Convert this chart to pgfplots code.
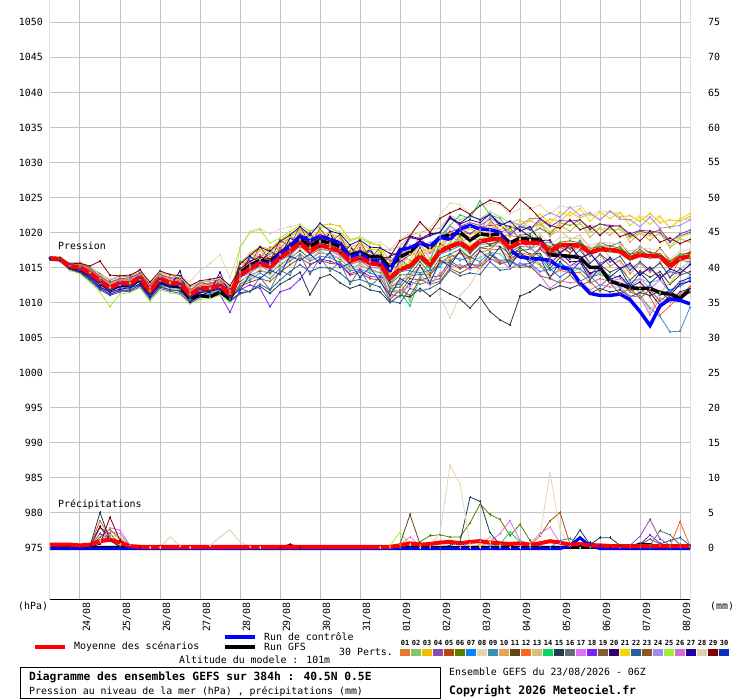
\documentclass[border=0pt]{standalone}
\usepackage{fontspec}
\setmainfont{DejaVu Sans Mono}
\usepackage{pgfplots}
\pgfplotsset{compat=1.18}
\usepackage{pgfplotstable}
\definecolor{c01}{HTML}{E07B30}\definecolor{c02}{HTML}{88C46C}\definecolor{c03}{HTML}{F0C000}
\definecolor{c04}{HTML}{8C4CAC}\definecolor{c05}{HTML}{B04C08}\definecolor{c06}{HTML}{5A8000}
\definecolor{c07}{HTML}{0A84FF}\definecolor{c08}{HTML}{E8D4B0}\definecolor{c09}{HTML}{3C8CB8}
\definecolor{c10}{HTML}{E8A450}\definecolor{c11}{HTML}{5C4818}\definecolor{c12}{HTML}{F86820}
\definecolor{c13}{HTML}{D4C078}\definecolor{c14}{HTML}{08D860}\definecolor{c15}{HTML}{203C50}
\definecolor{c16}{HTML}{647078}\definecolor{c17}{HTML}{E070F8}\definecolor{c18}{HTML}{8020F8}
\definecolor{c19}{HTML}{806030}\definecolor{c20}{HTML}{300070}\definecolor{c21}{HTML}{F0D800}
\definecolor{c22}{HTML}{28609C}\definecolor{c23}{HTML}{905820}\definecolor{c24}{HTML}{9C8CF0}
\definecolor{c25}{HTML}{A0F030}\definecolor{c26}{HTML}{D070D0}\definecolor{c27}{HTML}{2000A0}
\definecolor{c28}{HTML}{E0D0B0}\definecolor{c29}{HTML}{800008}\definecolor{c30}{HTML}{0830B8}
\definecolor{gridc}{HTML}{C4C4C4}
\newcommand{\fnt}{\fontsize{9.9}{11}\selectfont}
\pgfplotsset{mem/.style={line width=0.8pt, mark=*, mark size=0.6pt, mark options={solid}},
  pm/.style={line width=0.8pt, mark=+, mark size=1.2pt}}
\begin{document}
\begin{tikzpicture}[x=1pt,y=1pt]
\useasboundingbox (0,0) rectangle (740,700);
\begin{axis}[at={(50pt,100pt)}, anchor=south west,
  scale only axis, width=640pt, height=600pt,
  xmin=0, xmax=384, ymin=967.5, ymax=1053.2,
  axis line style={draw=none},
  xtick={18,42,...,378},
  xticklabels={24/08,25/08,26/08,27/08,28/08,29/08,30/08,31/08,01/09,02/09,03/09,04/09,05/09,06/09,07/09,08/09},
  ytick={975,980,...,1050},
  major tick length=0pt,
  xmajorgrids, ymajorgrids,
  major grid style={draw=gridc, line width=1pt},
  ticklabel style={font=\fnt},
  xticklabel style={xshift=7pt, yshift=-2pt, rotate=90, anchor=east, inner sep=0pt},
  yticklabel style={anchor=east, inner sep=0pt, xshift=-7pt},
  /pgf/number format/assume math mode=true,
  /pgf/number format/1000 sep={},
]
\addplot[mem,c01] table[row sep=\\, x expr=\coordindex*6, y=p]{p\\1016.4\\1016.3\\1015.4\\1015.5\\1014.6\\1013.9\\1012.5\\1013.5\\1013.1\\1014.3\\1012.0\\1014.0\\1013.6\\1013.2\\1011.9\\1012.4\\1012.8\\1013.0\\1011.5\\1014.2\\1017.0\\1016.4\\1017.9\\1017.6\\1019.4\\1019.0\\1019.6\\1018.8\\1020.2\\1018.0\\1018.0\\1016.9\\1017.6\\1016.0\\1015.5\\1017.9\\1016.8\\1019.6\\1017.0\\1019.2\\1020.9\\1020.0\\1019.8\\1020.1\\1021.3\\1019.6\\1019.5\\1019.4\\1018.2\\1019.4\\1017.0\\1018.4\\1017.1\\1017.9\\1015.6\\1016.8\\1015.2\\1016.0\\1014.1\\1015.6\\1014.3\\1015.8\\1013.5\\1016.2\\1016.4\\};
\addplot[mem,c02] table[row sep=\\, x expr=\coordindex*6, y=p]{p\\1016.2\\1016.0\\1014.7\\1014.3\\1013.4\\1012.2\\1011.4\\1011.8\\1012.0\\1012.7\\1010.9\\1012.5\\1012.1\\1011.8\\1010.4\\1011.0\\1011.3\\1011.6\\1010.0\\1012.6\\1013.5\\1014.8\\1013.9\\1015.6\\1016.0\\1017.6\\1016.1\\1017.4\\1016.5\\1016.4\\1014.6\\1015.6\\1014.4\\1014.3\\1011.2\\1012.9\\1010.2\\1013.8\\1012.9\\1015.6\\1016.2\\1016.3\\1015.8\\1016.4\\1017.2\\1016.9\\1015.6\\1016.8\\1016.1\\1015.3\\1013.6\\1014.9\\1014.4\\1014.8\\1013.4\\1014.3\\1013.9\\1013.6\\1012.9\\1013.4\\1012.8\\1013.3\\1011.6\\1012.9\\1013.0\\};
\addplot[mem,c03] table[row sep=\\, x expr=\coordindex*6, y=p]{p\\1016.3\\1016.4\\1015.3\\1015.4\\1014.8\\1013.4\\1012.7\\1013.1\\1013.2\\1013.9\\1012.1\\1013.8\\1013.3\\1013.0\\1011.6\\1012.3\\1012.5\\1012.8\\1011.6\\1015.6\\1017.0\\1018.0\\1017.6\\1018.9\\1019.8\\1020.6\\1020.0\\1021.0\\1021.2\\1020.9\\1019.0\\1019.4\\1018.6\\1018.1\\1015.8\\1015.6\\1017.5\\1017.2\\1017.9\\1018.0\\1020.3\\1019.4\\1020.6\\1019.8\\1021.5\\1020.4\\1020.9\\1020.5\\1021.7\\1021.0\\1021.9\\1021.6\\1022.9\\1022.1\\1022.6\\1021.8\\1023.1\\1022.2\\1022.4\\1021.6\\1022.7\\1021.4\\1021.8\\1021.6\\1022.3\\};
\addplot[mem,c04] table[row sep=\\, x expr=\coordindex*6, y=p]{p\\1016.2\\1016.1\\1015.0\\1014.8\\1014.0\\1013.3\\1011.8\\1012.9\\1012.4\\1013.8\\1011.2\\1013.6\\1012.6\\1012.9\\1010.8\\1012.2\\1011.8\\1012.7\\1010.6\\1015.0\\1014.6\\1016.8\\1014.8\\1017.8\\1016.6\\1019.8\\1016.9\\1019.6\\1017.4\\1018.6\\1015.4\\1017.8\\1015.2\\1016.8\\1016.0\\1016.4\\1019.2\\1019.0\\1019.5\\1020.0\\1022.2\\1020.9\\1021.4\\1021.0\\1021.9\\1020.0\\1020.6\\1019.1\\1019.6\\1018.4\\1018.6\\1017.2\\1018.0\\1016.4\\1016.9\\1015.6\\1016.2\\1014.9\\1015.3\\1014.1\\1015.0\\1013.6\\1014.4\\1014.0\\1015.5\\};
\addplot[mem,c05] table[row sep=\\, x expr=\coordindex*6, y=p]{p\\1016.3\\1016.1\\1014.8\\1014.6\\1013.6\\1012.5\\1011.7\\1012.2\\1012.3\\1013.0\\1011.2\\1012.8\\1012.3\\1012.1\\1010.7\\1011.4\\1011.6\\1011.9\\1010.3\\1012.3\\1012.9\\1013.4\\1013.0\\1014.3\\1015.4\\1016.3\\1015.5\\1016.0\\1015.6\\1015.4\\1013.9\\1014.3\\1013.4\\1013.2\\1010.4\\1011.8\\1011.0\\1013.3\\1012.6\\1013.0\\1014.9\\1014.2\\1015.0\\1014.9\\1016.3\\1015.5\\1015.9\\1016.8\\1016.0\\1017.6\\1016.4\\1017.9\\1017.1\\1018.5\\1016.6\\1018.2\\1017.4\\1018.0\\1016.4\\1017.6\\1016.3\\1017.8\\1015.9\\1016.9\\1017.0\\};
\addplot[mem,c06] table[row sep=\\, x expr=\coordindex*6, y=p]{p\\1016.3\\1016.2\\1015.0\\1014.7\\1013.8\\1012.9\\1011.6\\1012.6\\1012.3\\1013.4\\1011.1\\1013.2\\1012.4\\1012.5\\1010.6\\1011.8\\1011.6\\1012.3\\1010.6\\1014.6\\1015.1\\1016.3\\1015.5\\1016.9\\1017.6\\1019.0\\1017.8\\1018.6\\1018.4\\1017.7\\1016.5\\1016.8\\1016.2\\1015.7\\1012.6\\1013.9\\1014.0\\1015.8\\1014.2\\1016.3\\1016.9\\1017.6\\1016.4\\1017.8\\1018.1\\1018.0\\1016.9\\1017.4\\1017.6\\1018.9\\1017.9\\1018.6\\1018.8\\1018.5\\1017.7\\1018.0\\1018.1\\1017.7\\1016.9\\1017.2\\1017.2\\1016.9\\1015.8\\1016.7\\1017.2\\};
\addplot[mem,c07] table[row sep=\\, x expr=\coordindex*6, y=p]{p\\1016.3\\1016.3\\1015.2\\1015.2\\1014.5\\1013.3\\1012.5\\1013.0\\1013.1\\1013.8\\1011.9\\1013.8\\1013.0\\1013.0\\1011.4\\1012.2\\1012.4\\1012.7\\1011.5\\1013.8\\1016.4\\1015.8\\1017.0\\1016.6\\1019.2\\1018.6\\1019.5\\1018.2\\1019.8\\1017.4\\1017.9\\1016.4\\1017.3\\1015.6\\1012.4\\1012.6\\1014.5\\1014.2\\1014.6\\1015.1\\1016.9\\1016.0\\1016.5\\1015.8\\1017.2\\1015.9\\1016.0\\1015.2\\1015.6\\1014.4\\1014.8\\1013.6\\1014.6\\1013.0\\1013.8\\1012.4\\1013.5\\1012.1\\1012.8\\1011.3\\1012.5\\1011.0\\1011.8\\1012.3\\1013.2\\};
\addplot[mem,c08] table[row sep=\\, x expr=\coordindex*6, y=p]{p\\1016.4\\1016.4\\1015.4\\1015.6\\1015.0\\1014.0\\1012.8\\1013.8\\1013.3\\1014.5\\1012.4\\1014.3\\1013.5\\1013.6\\1013.0\\1014.5\\1015.6\\1016.8\\1013.5\\1017.8\\1020.2\\1020.6\\1019.8\\1020.5\\1020.8\\1021.2\\1020.0\\1021.0\\1020.6\\1020.1\\1018.9\\1019.4\\1018.7\\1018.6\\1017.6\\1019.0\\1019.9\\1021.2\\1020.5\\1022.5\\1024.2\\1024.0\\1022.6\\1023.8\\1024.1\\1024.0\\1022.6\\1023.4\\1023.3\\1023.9\\1022.6\\1023.8\\1023.5\\1023.8\\1022.4\\1023.1\\1022.9\\1022.8\\1021.7\\1022.4\\1022.0\\1022.3\\1020.6\\1021.8\\1021.9\\};
\addplot[mem,c09] table[row sep=\\, x expr=\coordindex*6, y=p]{p\\1016.2\\1016.0\\1014.8\\1014.4\\1013.5\\1012.6\\1011.4\\1012.3\\1012.0\\1013.1\\1010.9\\1012.8\\1012.1\\1012.2\\1010.4\\1011.5\\1011.3\\1012.0\\1010.5\\1012.6\\1013.2\\1014.2\\1013.4\\1014.9\\1015.9\\1016.9\\1015.9\\1016.6\\1016.4\\1015.7\\1014.5\\1014.8\\1014.2\\1013.8\\1012.8\\1014.4\\1014.6\\1016.2\\1014.8\\1016.9\\1017.4\\1018.1\\1017.0\\1018.3\\1018.4\\1018.6\\1017.2\\1018.0\\1017.9\\1016.4\\1014.6\\1015.4\\1015.0\\1014.8\\1013.6\\1014.0\\1013.4\\1012.8\\1011.5\\1011.0\\1009.2\\1008.0\\1005.8\\1005.9\\1009.3\\};
\addplot[mem,c10] table[row sep=\\, x expr=\coordindex*6, y=p]{p\\1016.3\\1016.2\\1015.2\\1015.1\\1014.4\\1013.2\\1012.4\\1012.9\\1013.0\\1013.7\\1011.9\\1013.5\\1013.1\\1012.8\\1011.4\\1012.1\\1012.3\\1012.6\\1011.4\\1015.6\\1015.0\\1017.5\\1015.4\\1018.3\\1017.2\\1020.4\\1017.4\\1020.0\\1017.9\\1019.2\\1016.0\\1018.3\\1015.8\\1017.3\\1014.2\\1016.8\\1016.0\\1018.5\\1016.2\\1019.5\\1018.8\\1020.6\\1018.5\\1020.9\\1019.8\\1021.2\\1019.4\\1021.0\\1020.3\\1021.6\\1019.4\\1021.0\\1020.2\\1021.4\\1019.3\\1020.6\\1019.6\\1020.8\\1018.6\\1019.9\\1018.9\\1020.0\\1017.8\\1019.1\\1018.6\\};
\addplot[mem,c11] table[row sep=\\, x expr=\coordindex*6, y=p]{p\\1016.4\\1016.3\\1015.6\\1015.7\\1015.0\\1014.1\\1013.2\\1013.8\\1013.6\\1014.7\\1012.5\\1014.3\\1013.9\\1013.5\\1012.2\\1012.8\\1013.1\\1013.3\\1012.0\\1013.0\\1013.9\\1014.5\\1014.2\\1015.3\\1016.4\\1017.4\\1016.3\\1017.1\\1016.9\\1016.2\\1015.0\\1015.3\\1014.7\\1014.3\\1013.0\\1016.2\\1015.0\\1017.9\\1015.1\\1018.4\\1017.6\\1019.5\\1017.0\\1019.0\\1018.2\\1018.9\\1016.5\\1017.8\\1016.9\\1017.0\\1014.9\\1016.4\\1015.2\\1016.1\\1013.9\\1015.4\\1014.3\\1015.0\\1013.2\\1014.5\\1013.6\\1014.4\\1012.6\\1013.9\\1014.4\\};
\addplot[mem,c12] table[row sep=\\, x expr=\coordindex*6, y=p]{p\\1016.3\\1016.2\\1015.1\\1014.9\\1014.2\\1012.9\\1012.3\\1012.6\\1012.9\\1013.4\\1011.8\\1013.2\\1013.0\\1012.5\\1011.3\\1011.8\\1012.2\\1012.3\\1011.3\\1013.4\\1015.8\\1015.4\\1016.6\\1016.0\\1018.6\\1017.9\\1018.8\\1017.4\\1019.0\\1016.9\\1017.4\\1015.6\\1016.8\\1014.9\\1012.0\\1013.2\\1013.7\\1015.1\\1013.9\\1015.8\\1016.5\\1017.0\\1016.1\\1017.2\\1017.5\\1017.6\\1016.3\\1017.1\\1016.8\\1015.5\\1013.8\\1014.6\\1014.2\\1014.3\\1012.8\\1013.4\\1013.0\\1012.8\\1011.6\\1012.0\\1010.8\\1008.2\\1009.5\\1011.0\\1012.3\\};
\addplot[mem,c13] table[row sep=\\, x expr=\coordindex*6, y=p]{p\\1016.3\\1016.3\\1015.4\\1015.3\\1014.7\\1013.6\\1012.6\\1013.3\\1013.2\\1014.1\\1012.1\\1013.9\\1013.3\\1013.2\\1011.6\\1012.5\\1012.5\\1013.0\\1011.6\\1015.4\\1016.8\\1017.6\\1017.1\\1018.4\\1019.3\\1020.4\\1019.3\\1020.2\\1019.8\\1019.3\\1017.9\\1018.4\\1017.6\\1017.6\\1017.5\\1018.0\\1019.6\\1020.0\\1020.4\\1020.6\\1022.4\\1021.8\\1022.3\\1021.9\\1023.0\\1022.2\\1021.4\\1021.8\\1020.6\\1021.2\\1019.6\\1020.3\\1019.0\\1019.6\\1017.8\\1018.2\\1016.4\\1015.8\\1013.0\\1011.2\\1008.6\\1011.4\\1012.8\\1014.6\\1016.0\\};
\addplot[mem,c14] table[row sep=\\, x expr=\coordindex*6, y=p]{p\\1016.2\\1016.1\\1014.9\\1014.7\\1013.8\\1012.7\\1011.6\\1012.5\\1012.2\\1013.3\\1011.1\\1013.0\\1012.5\\1012.2\\1010.8\\1011.6\\1011.5\\1012.2\\1010.6\\1013.6\\1014.2\\1015.2\\1014.5\\1016.0\\1016.7\\1018.1\\1016.8\\1017.6\\1017.4\\1016.7\\1015.4\\1015.9\\1015.0\\1014.9\\1012.0\\1011.5\\1009.5\\1013.5\\1016.0\\1019.5\\1021.0\\1022.5\\1022.0\\1024.5\\1022.5\\1022.0\\1020.0\\1021.0\\1020.5\\1019.0\\1017.4\\1018.4\\1018.0\\1018.5\\1016.8\\1017.9\\1017.2\\1017.6\\1016.0\\1017.0\\1016.4\\1016.9\\1015.0\\1016.8\\1016.2\\};
\addplot[mem,c15] table[row sep=\\, x expr=\coordindex*6, y=p]{p\\1016.2\\1016.0\\1014.6\\1014.3\\1013.2\\1012.0\\1011.2\\1011.7\\1011.8\\1012.4\\1010.7\\1012.2\\1011.8\\1011.6\\1010.2\\1010.9\\1011.1\\1011.4\\1010.2\\1011.4\\1011.6\\1012.3\\1011.3\\1012.6\\1013.4\\1014.3\\1011.1\\1013.5\\1014.0\\1012.8\\1012.0\\1012.5\\1011.8\\1011.5\\1010.0\\1011.0\\1010.8\\1012.0\\1010.9\\1012.0\\1011.2\\1010.5\\1009.2\\1010.8\\1008.7\\1007.5\\1006.8\\1010.9\\1011.5\\1012.5\\1011.8\\1012.4\\1012.0\\1012.6\\1011.3\\1012.0\\1011.5\\1011.8\\1010.8\\1011.4\\1011.0\\1011.6\\1010.3\\1011.5\\1012.0\\};
\addplot[mem,c16] table[row sep=\\, x expr=\coordindex*6, y=p]{p\\1016.3\\1016.1\\1015.0\\1014.8\\1014.0\\1012.9\\1011.9\\1012.6\\1012.5\\1013.4\\1011.4\\1013.2\\1012.6\\1012.5\\1010.9\\1011.8\\1011.8\\1012.3\\1010.9\\1012.0\\1011.5\\1013.6\\1011.8\\1014.6\\1013.9\\1016.8\\1014.0\\1016.4\\1014.5\\1015.8\\1012.6\\1014.8\\1012.3\\1013.6\\1011.2\\1010.8\\1012.9\\1012.6\\1013.0\\1013.4\\1015.6\\1014.8\\1015.4\\1015.3\\1016.8\\1016.0\\1016.2\\1017.0\\1016.4\\1017.8\\1016.6\\1018.4\\1017.6\\1018.8\\1017.2\\1018.6\\1018.0\\1018.6\\1016.8\\1018.0\\1017.1\\1016.4\\1014.8\\1016.0\\1015.8\\};
\addplot[mem,c17] table[row sep=\\, x expr=\coordindex*6, y=p]{p\\1016.3\\1016.3\\1015.3\\1015.2\\1014.4\\1013.5\\1012.3\\1013.2\\1012.9\\1014.0\\1011.8\\1013.8\\1013.0\\1013.1\\1011.3\\1012.4\\1012.2\\1012.9\\1011.3\\1014.3\\1015.4\\1016.0\\1015.7\\1016.8\\1017.9\\1018.9\\1017.9\\1018.6\\1018.4\\1017.7\\1016.5\\1016.8\\1016.2\\1015.8\\1015.0\\1015.2\\1016.9\\1017.0\\1017.1\\1017.6\\1019.4\\1018.7\\1019.2\\1018.8\\1020.4\\1019.5\\1018.6\\1019.0\\1017.6\\1018.2\\1016.0\\1016.6\\1015.2\\1015.6\\1013.8\\1014.5\\1013.0\\1013.4\\1012.2\\1013.4\\1012.0\\1013.2\\1011.4\\1012.6\\1013.8\\};
\addplot[mem,c18] table[row sep=\\, x expr=\coordindex*6, y=p]{p\\1016.2\\1016.0\\1014.6\\1014.2\\1013.1\\1011.8\\1011.0\\1011.5\\1011.6\\1012.2\\1010.5\\1012.0\\1011.6\\1011.3\\1009.9\\1010.7\\1010.8\\1011.1\\1008.6\\1011.8\\1012.5\\1012.0\\1009.4\\1011.5\\1012.0\\1013.3\\1015.3\\1016.2\\1015.9\\1015.4\\1014.1\\1014.6\\1013.7\\1013.6\\1013.5\\1015.8\\1016.8\\1018.5\\1017.6\\1019.3\\1020.1\\1020.5\\1019.8\\1020.8\\1021.0\\1021.2\\1019.7\\1020.8\\1020.4\\1021.9\\1020.8\\1021.7\\1021.6\\1021.8\\1020.4\\1021.2\\1021.0\\1020.9\\1019.8\\1020.3\\1020.2\\1020.0\\1018.6\\1019.8\\1020.3\\};
\addplot[mem,c19] table[row sep=\\, x expr=\coordindex*6, y=p]{p\\1016.4\\1016.3\\1015.4\\1015.5\\1014.9\\1013.7\\1012.9\\1013.4\\1013.5\\1014.2\\1012.4\\1014.0\\1013.5\\1013.4\\1011.7\\1012.8\\1012.6\\1013.3\\1011.7\\1014.0\\1014.6\\1015.8\\1014.9\\1016.5\\1017.1\\1018.7\\1017.1\\1018.3\\1017.6\\1017.5\\1015.7\\1016.6\\1015.4\\1015.6\\1012.0\\1012.2\\1013.8\\1014.0\\1013.9\\1015.6\\1015.8\\1017.2\\1016.4\\1017.8\\1017.6\\1018.9\\1018.2\\1019.6\\1019.8\\1020.6\\1019.8\\1021.4\\1021.0\\1021.8\\1020.6\\1021.2\\1020.8\\1021.0\\1019.4\\1020.2\\1019.8\\1020.4\\1018.8\\1019.5\\1020.0\\};
\addplot[mem,c20] table[row sep=\\, x expr=\coordindex*6, y=p]{p\\1016.2\\1016.1\\1014.9\\1014.6\\1013.8\\1012.5\\1011.7\\1012.2\\1012.3\\1013.0\\1011.2\\1012.8\\1012.4\\1012.1\\1010.7\\1011.4\\1011.6\\1011.9\\1010.7\\1013.6\\1016.6\\1015.6\\1017.4\\1016.4\\1019.2\\1018.4\\1019.9\\1018.0\\1020.0\\1017.0\\1018.0\\1016.2\\1017.6\\1015.4\\1016.6\\1017.2\\1019.5\\1019.1\\1019.8\\1020.0\\1022.0\\1021.2\\1021.8\\1021.4\\1022.6\\1021.3\\1020.8\\1020.4\\1019.4\\1019.0\\1017.0\\1017.1\\1015.8\\1015.9\\1014.2\\1014.6\\1013.3\\1013.8\\1012.2\\1012.9\\1011.4\\1009.6\\1011.0\\1012.6\\1013.0\\};
\addplot[mem,c21] table[row sep=\\, x expr=\coordindex*6, y=p]{p\\1016.3\\1016.2\\1015.2\\1015.0\\1014.3\\1013.2\\1012.1\\1013.0\\1012.8\\1013.7\\1011.7\\1013.6\\1012.8\\1012.9\\1011.2\\1012.2\\1012.0\\1012.7\\1011.2\\1015.4\\1016.8\\1017.6\\1017.1\\1018.4\\1019.3\\1020.5\\1019.3\\1020.2\\1019.8\\1019.3\\1017.9\\1018.4\\1017.6\\1017.4\\1014.8\\1015.0\\1016.9\\1016.8\\1017.6\\1017.9\\1019.8\\1019.1\\1019.6\\1020.4\\1021.2\\1021.0\\1020.4\\1021.5\\1021.6\\1022.6\\1021.3\\1022.9\\1022.4\\1023.4\\1021.6\\1022.9\\1022.0\\1022.8\\1021.0\\1022.2\\1021.2\\1022.3\\1020.6\\1021.9\\1022.7\\};
\addplot[mem,c22] table[row sep=\\, x expr=\coordindex*6, y=p]{p\\1016.2\\1016.0\\1014.7\\1014.2\\1013.2\\1012.1\\1011.1\\1011.8\\1011.7\\1012.6\\1010.6\\1012.4\\1011.8\\1011.7\\1010.1\\1011.0\\1011.0\\1011.5\\1010.1\\1011.2\\1011.6\\1012.6\\1011.8\\1013.2\\1014.4\\1015.4\\1014.4\\1015.0\\1014.9\\1014.2\\1013.0\\1013.3\\1012.7\\1012.2\\1010.2\\1009.9\\1012.0\\1011.6\\1012.0\\1012.8\\1014.6\\1013.8\\1014.2\\1014.0\\1015.8\\1014.6\\1014.8\\1015.6\\1015.0\\1016.6\\1015.4\\1017.0\\1016.2\\1017.5\\1015.6\\1016.9\\1015.8\\1016.6\\1014.6\\1015.8\\1014.6\\1015.6\\1013.6\\1014.8\\1014.0\\};
\addplot[mem,c23] table[row sep=\\, x expr=\coordindex*6, y=p]{p\\1016.3\\1016.3\\1015.2\\1015.1\\1014.5\\1013.2\\1012.4\\1012.9\\1013.0\\1013.7\\1011.9\\1013.5\\1013.1\\1012.8\\1011.4\\1012.1\\1012.3\\1012.6\\1011.4\\1015.8\\1015.4\\1018.0\\1015.9\\1018.9\\1017.9\\1021.0\\1018.1\\1020.6\\1018.6\\1019.7\\1016.6\\1018.8\\1016.2\\1017.8\\1011.6\\1011.4\\1013.4\\1013.2\\1013.6\\1013.8\\1016.0\\1015.0\\1015.6\\1015.0\\1016.9\\1015.6\\1015.9\\1015.0\\1015.2\\1013.8\\1013.4\\1012.8\\1013.9\\1012.4\\1013.0\\1011.6\\1012.8\\1011.2\\1012.0\\1010.6\\1011.8\\1010.2\\1011.4\\1011.0\\1011.4\\};
\addplot[mem,c24] table[row sep=\\, x expr=\coordindex*6, y=p]{p\\1016.3\\1016.1\\1015.0\\1014.7\\1013.9\\1012.8\\1011.8\\1012.5\\1012.4\\1013.3\\1011.3\\1013.1\\1012.5\\1012.4\\1010.8\\1011.7\\1011.7\\1012.2\\1010.8\\1014.4\\1015.3\\1016.1\\1015.6\\1016.9\\1017.8\\1019.0\\1017.8\\1018.7\\1018.3\\1017.8\\1016.4\\1016.9\\1016.1\\1015.9\\1016.4\\1016.2\\1018.2\\1018.0\\1018.6\\1018.8\\1020.9\\1020.0\\1020.8\\1020.4\\1022.2\\1021.0\\1021.6\\1021.0\\1022.0\\1022.0\\1022.8\\1022.2\\1023.6\\1022.4\\1022.8\\1021.8\\1023.0\\1021.9\\1021.8\\1020.8\\1022.2\\1020.6\\1020.8\\1021.0\\1021.8\\};
\addplot[mem,c25] table[row sep=\\, x expr=\coordindex*6, y=p]{p\\1016.2\\1016.0\\1014.6\\1014.1\\1012.9\\1011.5\\1009.4\\1011.2\\1011.4\\1012.1\\1010.1\\1011.8\\1011.4\\1011.1\\1009.8\\1010.4\\1010.6\\1011.0\\1010.0\\1017.8\\1020.0\\1020.4\\1018.5\\1019.2\\1020.1\\1021.0\\1020.2\\1020.8\\1020.6\\1020.0\\1018.8\\1019.2\\1018.4\\1018.2\\1014.0\\1015.2\\1015.8\\1017.0\\1015.9\\1017.8\\1018.5\\1019.0\\1018.1\\1019.2\\1019.5\\1019.6\\1018.3\\1019.1\\1019.0\\1021.5\\1020.1\\1021.3\\1021.1\\1021.2\\1020.0\\1020.7\\1020.4\\1020.4\\1019.2\\1019.9\\1019.5\\1019.7\\1018.1\\1019.4\\1019.8\\};
\addplot[mem,c26] table[row sep=\\, x expr=\coordindex*6, y=p]{p\\1016.3\\1016.3\\1015.3\\1015.3\\1014.7\\1013.5\\1012.7\\1013.2\\1013.3\\1014.0\\1012.2\\1013.8\\1013.4\\1013.1\\1011.7\\1012.4\\1012.6\\1012.9\\1011.7\\1013.6\\1014.2\\1015.2\\1014.5\\1016.0\\1016.7\\1018.1\\1016.8\\1017.6\\1017.4\\1016.7\\1015.4\\1015.9\\1015.0\\1014.9\\1010.8\\1011.6\\1012.3\\1013.5\\1012.5\\1014.2\\1015.1\\1015.4\\1014.7\\1015.6\\1016.1\\1016.0\\1014.9\\1015.5\\1015.6\\1013.9\\1012.0\\1013.1\\1012.8\\1013.0\\1011.8\\1012.5\\1012.2\\1012.2\\1010.9\\1010.8\\1008.2\\1010.6\\1010.0\\1011.3\\1011.7\\};
\addplot[mem,c27] table[row sep=\\, x expr=\coordindex*6, y=p]{p\\1016.2\\1016.0\\1014.8\\1014.4\\1013.5\\1012.2\\1011.5\\1011.9\\1012.1\\1012.6\\1010.9\\1012.6\\1012.2\\1014.5\\1010.0\\1011.0\\1011.5\\1014.3\\1011.0\\1015.5\\1016.7\\1017.9\\1017.3\\1018.7\\1019.6\\1020.8\\1019.6\\1021.3\\1020.2\\1019.8\\1018.2\\1018.9\\1017.9\\1017.8\\1017.0\\1016.8\\1019.4\\1018.9\\1019.6\\1020.0\\1022.2\\1021.3\\1022.4\\1021.8\\1022.6\\1021.0\\1021.6\\1020.2\\1020.8\\1018.8\\1018.9\\1017.0\\1018.2\\1016.2\\1017.1\\1015.2\\1016.4\\1014.8\\1015.6\\1013.9\\1015.0\\1013.4\\1014.8\\1014.2\\1015.4\\};
\addplot[mem,c28] table[row sep=\\, x expr=\coordindex*6, y=p]{p\\1016.4\\1016.4\\1015.6\\1015.7\\1015.1\\1014.0\\1013.3\\1013.7\\1013.8\\1014.5\\1012.7\\1014.3\\1013.9\\1013.6\\1012.2\\1012.9\\1013.1\\1013.4\\1012.2\\1013.2\\1013.7\\1014.7\\1013.9\\1015.5\\1016.2\\1017.6\\1016.3\\1017.2\\1016.8\\1016.3\\1014.9\\1015.4\\1014.6\\1014.4\\1012.5\\1013.3\\1013.8\\1014.6\\1013.4\\1011.0\\1007.8\\1011.0\\1012.5\\1015.0\\1017.5\\1018.5\\1017.4\\1018.6\\1018.9\\1019.8\\1018.2\\1019.3\\1019.2\\1019.1\\1018.1\\1018.6\\1018.5\\1018.3\\1017.3\\1017.8\\1017.6\\1017.6\\1016.2\\1017.3\\1017.6\\};
\addplot[mem,c29] table[row sep=\\, x expr=\coordindex*6, y=p]{p\\1016.4\\1016.4\\1015.5\\1015.6\\1015.2\\1015.9\\1013.9\\1013.8\\1013.9\\1014.6\\1012.9\\1014.5\\1014.0\\1013.8\\1012.4\\1013.1\\1013.3\\1013.6\\1012.4\\1014.8\\1015.9\\1016.5\\1016.2\\1017.3\\1018.4\\1019.4\\1018.4\\1019.1\\1018.9\\1018.2\\1017.0\\1017.3\\1016.7\\1016.3\\1016.5\\1018.8\\1019.5\\1021.5\\1020.0\\1022.0\\1022.8\\1023.4\\1022.6\\1023.8\\1024.6\\1024.2\\1023.0\\1024.7\\1023.5\\1022.0\\1021.0\\1020.6\\1021.8\\1020.4\\1020.9\\1019.6\\1020.8\\1019.4\\1019.9\\1018.8\\1020.2\\1018.6\\1019.2\\1018.4\\1019.0\\};
\addplot[mem,c30] table[row sep=\\, x expr=\coordindex*6, y=p]{p\\1016.3\\1016.1\\1015.0\\1014.8\\1013.9\\1012.9\\1011.8\\1012.7\\1012.4\\1013.5\\1011.3\\1013.3\\1012.5\\1012.6\\1010.8\\1011.9\\1011.7\\1012.4\\1010.8\\1011.8\\1014.0\\1013.4\\1014.6\\1014.0\\1016.6\\1016.0\\1016.9\\1015.6\\1017.2\\1015.0\\1015.6\\1013.6\\1015.0\\1013.0\\1011.0\\1013.4\\1012.6\\1015.3\\1012.8\\1016.0\\1015.2\\1017.4\\1015.0\\1017.4\\1016.2\\1017.9\\1015.2\\1017.2\\1015.6\\1016.4\\1013.5\\1015.8\\1014.3\\1015.8\\1013.2\\1015.0\\1013.6\\1014.8\\1012.4\\1014.2\\1012.8\\1014.0\\1011.4\\1013.0\\1013.5\\};
% GFS
\addplot[black, line width=3.5pt] table[row sep=\\, x expr=\coordindex*6, y=p]{p\\1016.2\\1016.1\\1015.0\\1014.8\\1014.0\\1013.0\\1011.9\\1012.5\\1012.4\\1013.3\\1011.3\\1013.0\\1012.4\\1012.2\\1010.6\\1011.0\\1010.8\\1011.5\\1010.5\\1014.2\\1015.3\\1016.0\\1015.8\\1017.0\\1017.8\\1019.0\\1018.0\\1018.8\\1018.5\\1018.0\\1016.7\\1017.2\\1016.5\\1016.6\\1015.0\\1016.5\\1017.2\\1018.6\\1017.8\\1019.3\\1019.6\\1020.0\\1018.9\\1019.8\\1019.6\\1019.8\\1018.5\\1019.2\\1019.0\\1019.0\\1016.8\\1016.7\\1016.6\\1016.4\\1015.0\\1015.0\\1013.0\\1012.6\\1012.1\\1012.0\\1012.0\\1011.4\\1011.2\\1010.6\\1011.8\\};
% control
\addplot[blue, line width=3.5pt] table[row sep=\\, x expr=\coordindex*6, y=p]{p\\1016.3\\1016.2\\1015.0\\1014.9\\1014.0\\1012.9\\1011.9\\1012.6\\1012.5\\1013.4\\1011.4\\1013.2\\1012.6\\1012.5\\1010.9\\1011.8\\1011.9\\1012.3\\1010.9\\1013.9\\1015.0\\1015.8\\1015.5\\1016.9\\1018.0\\1019.5\\1018.8\\1019.5\\1019.0\\1018.5\\1016.5\\1017.0\\1016.0\\1016.0\\1014.5\\1017.5\\1017.8\\1018.5\\1018.0\\1019.3\\1019.0\\1020.5\\1021.0\\1020.5\\1020.4\\1020.0\\1017.5\\1016.5\\1016.3\\1016.2\\1016.0\\1015.0\\1014.8\\1012.8\\1011.3\\1011.0\\1011.0\\1011.2\\1010.4\\1008.7\\1006.7\\1009.5\\1010.5\\1010.3\\1009.8\\};
% mean
\addplot[red, line width=4.5pt] table[row sep=\\, x expr=\coordindex*6, y=p]{p\\1016.3\\1016.2\\1015.1\\1015.0\\1014.2\\1013.1\\1012.1\\1012.8\\1012.7\\1013.6\\1011.6\\1013.4\\1012.8\\1012.7\\1011.1\\1012.0\\1012.0\\1012.5\\1011.1\\1013.9\\1014.8\\1015.6\\1015.1\\1016.4\\1017.3\\1018.5\\1017.3\\1018.2\\1017.8\\1017.3\\1015.9\\1016.4\\1015.6\\1015.4\\1013.5\\1014.7\\1015.2\\1016.6\\1015.4\\1017.3\\1018.0\\1018.5\\1017.6\\1018.7\\1019.0\\1019.1\\1017.8\\1018.6\\1018.5\\1018.5\\1017.3\\1018.2\\1018.2\\1018.1\\1017.1\\1017.6\\1017.5\\1017.3\\1016.3\\1016.8\\1016.6\\1016.6\\1015.2\\1016.3\\1016.6\\};
\draw[black, line width=1pt] (rel axis cs:0,1) -- (rel axis cs:0,0) -- (rel axis cs:1,0) -- (rel axis cs:1,1);
\end{axis}
\begin{axis}[at={(50pt,100pt)}, anchor=south west,
  scale only axis, width=640pt, height=600pt,
  xmin=0, xmax=384, ymin=-7.5, ymax=78.2,
  axis line style={draw=none},
  xtick=\empty, ytick={0,5,...,75}, yticklabel pos=right,
  major tick length=0pt,
  ticklabel style={font=\fnt},
  yticklabel style={anchor=west, inner sep=0pt, xshift=18pt},
  /pgf/number format/assume math mode=true,
]
\addplot[pm,c04] coordinates {(0,0)(24,0)(30,2.0)(36,1.2)(42,0.3)(48,0)(342,0)(348,0.3)(354,1.6)(360,4.0)(366,1.2)(372,0.3)(378,0)};
\addplot[pm,c05] coordinates {(18,0)(24,0)(30,2.8)(36,2.0)(42,0.4)(48,0)(282,0)(288,0.3)(294,1.7)(300,3.8)(306,5.0)(312,0.5)(318,0)};
\addplot[pm,c06] coordinates {(18,0)(24,0)(30,1.5)(36,2.6)(42,1.2)(48,0.1)(54,0)(210,0)(216,0.3)(222,0.8)(228,1.7)(234,1.8)(240,1.5)(246,1.5)(252,3.5)(258,6.2)(264,4.7)(270,4.0)(276,1.7)(282,3.3)(288,1.0)(294,0.2)(300,0)};
\addplot[pm,c13] coordinates {(18,0)(24,0)(30,1.0)(36,1.8)(42,1.5)(48,0.2)(54,0)(252,0)(258,0.5)(264,1.5)(270,0.5)(276,0)};
\addplot[pm,c25] coordinates {(18,0)(24,0)(30,0.8)(36,1.5)(42,0.5)(48,0)(198,0)(204,0.2)(210,2.2)(216,0.4)(222,0)};
\addplot[pm,c20] coordinates {(12,0)(18,0)(24,0.3)(30,3.0)(36,1.0)(42,0.1)(48,0)};
\addplot[pm,c26] coordinates {(18,0)(24,0)(30,0.5)(36,2.2)(42,2.0)(48,0.2)(54,0)};
\addplot[pm,c17] coordinates {(18,0)(24,0)(30,0.8)(36,2.8)(42,2.5)(48,0.3)(54,0)(204,0)(210,0.4)(216,1.5)(222,0.3)(228,0)(258,0)(264,0.8)(270,2.0)(276,3.8)(282,1.0)(288,0.5)(294,2.0)(300,2.9)(306,0.6)(312,0)};
\addplot[pm,c12] coordinates {(12,0)(18,0)(24,0.2)(30,3.8)(36,1.5)(42,0.2)(48,0)(360,0)(366,0.3)(372,0.2)(378,3.7)(384,0.2)};
\addplot[pm,c29] coordinates {(18,0)(24,0)(30,0.5)(36,4.3)(42,1.0)(48,0.1)(54,0)(138,0)(144,0.5)(150,0)};
\addplot[pm,c15] coordinates {(12,0)(18,0)(24,0.2)(30,5.0)(36,1.0)(42,0.1)(48,0)(234,0)(240,0.3)(246,0.8)(252,7.2)(258,6.6)(264,2.1)(270,0.4)(276,0.2)(282,0)(306,0)(312,0.3)(318,2.5)(324,0.4)(330,1.4)(336,1.4)(342,0.3)(348,0)};
\addplot[pm,c28] coordinates {(60,0)(66,0)(72,1.5)(78,0.2)(84,0)(96,0.3)(102,1.5)(108,2.5)(114,0.8)(120,0.1)(126,0)};
\addplot[pm,c08] coordinates {(222,0)(228,0.2)(234,2.1)(240,11.7)(246,9.1)(252,0.5)(258,0.1)(264,0)(282,0)(288,0.3)(294,1.8)(300,10.6)(306,2.5)(312,0.2)(318,0)};
\addplot[pm,c11] coordinates {(204,0)(210,0.5)(216,4.7)(222,0.5)(228,0.1)(234,0)};
\addplot[pm,c14] coordinates {(264,0)(270,0.5)(276,2.2)(282,0.8)(288,0)};
\addplot[pm,c09] coordinates {(300,0)(306,1.0)(312,1.3)(318,0.4)(324,0)};
\addplot[pm,c18] coordinates {(348,0)(354,0.4)(360,1.8)(366,0.6)(372,0)};
\addplot[pm,c16] coordinates {(354,0)(360,0.3)(366,2.4)(372,1.8)(378,0.4)(384,0)};
\addplot[pm,c22] coordinates {(360,0)(366,0.5)(372,1.0)(378,1.4)(384,0.3)};
\addplot[pm,c19] coordinates {(348,0)(354,0.4)(360,1.2)(366,0.5)(372,0)};
\addplot[pm,c21] coordinates {(252,0)(258,0.3)(264,0.7)(270,0.2)(276,0)};
\addplot[pm,c24] coordinates {(246,0)(252,0.6)(258,0.9)(264,0.3)(270,0)};
\addplot[pm,c27] coordinates {(312,0)(318,0.3)(324,0.7)(330,0.3)(336,0)};
\addplot[pm,c01] coordinates {(204,0)(210,0.4)(216,0.8)(222,0.3)(228,0)};
\addplot[black, line width=3pt] coordinates {(0,0)(348,0)(354,0.5)(360,0.4)(366,0)(384,0)};
\addplot[blue, line width=3pt] coordinates {(0,-0.15)(306,-0.15)(312,0.2)(318,1.4)(324,0.2)(330,-0.15)(384,-0.15)};
\addplot[red, line width=4pt] coordinates {(0,0.4)(6,0.4)(12,0.4)(18,0.3)(24,0.4)(30,0.9)(36,1.1)(42,0.7)(48,0.2)(54,0.1)(204,0.1)(210,0.3)(216,0.6)(222,0.4)(228,0.5)(234,0.7)(240,0.8)(246,0.6)(252,0.8)(258,0.9)(264,0.7)(270,0.6)(276,0.5)(282,0.6)(288,0.4)(294,0.6)(300,0.9)(306,0.7)(312,0.4)(318,0.5)(324,0.3)(330,0.3)(336,0.2)(384,0.2)};
\end{axis}
% labels on the chart
\node[anchor=west, font=\fnt, inner sep=0pt] at (58,454) {Pression};
\node[anchor=west, font=\fnt, inner sep=0pt] at (58,195) {Précipitations};
\node[anchor=west, font=\fnt, inner sep=0pt] at (18,93.3) {(hPa)};
\node[anchor=west, font=\fnt, inner sep=0pt] at (710,93.3) {(mm)};
% legend
\draw[red, line width=4pt] (35,53.3) -- (65,53.3);
\node[anchor=west, font=\fnt, inner sep=0pt] at (74,53.3) {Moyenne des scénarios};
\draw[blue, line width=4pt] (225,63.3) -- (255,63.3);
\node[anchor=west, font=\fnt, inner sep=0pt] at (264,63.3) {Run de contrôle};
\draw[black, line width=4pt] (225,53.3) -- (255,53.3);
\node[anchor=west, font=\fnt, inner sep=0pt] at (264,53.3) {Run GFS};
\node[anchor=west, font=\fnt, inner sep=0pt] at (339,48) {30 Perts.};
\node[anchor=west, font=\fnt, inner sep=0pt] at (179,40) {Altitude du modele : 101m};
\draw[black, line width=1pt] (20,1) rectangle (440,32.7);
\node[anchor=west, font=\fontsize{11.3}{12}\selectfont\bfseries, inner sep=0pt] at (29,23.3) {Diagramme des ensembles GEFS sur 384h : 40.5N 0.5E};
\node[anchor=west, font=\fnt, inner sep=0pt] at (29,8.3) {Pression au niveau de la mer (hPa) , précipitations (mm)};
\node[anchor=west, font=\fnt, inner sep=0pt] at (449,28.3) {Ensemble GEFS du 23/08/2026 - 06Z};
\node[anchor=west, font=\fontsize{11.5}{12}\selectfont\bfseries, inner sep=0pt] at (449,9) {Copyright 2026 Meteociel.fr};
\foreach \k/\lab in {1/01,2/02,3/03,4/04,5/05,6/06,7/07,8/08,9/09,10/10,11/11,12/12,13/13,14/14,15/15,16/16,17/17,18/18,19/19,20/20,21/21,22/22,23/23,24/24,25/25,26/26,27/27,28/28,29/29,30/30}{
  \pgfmathsetmacro{\xx}{400+11*(\k-1)}
  \fill[c\lab] (\xx,44) rectangle ++(10,6.7);
  \node[font=\fontsize{7}{8}\selectfont\bfseries, inner sep=0pt] at (\xx+5,57) {\lab};
}
\end{tikzpicture}
\end{document}
